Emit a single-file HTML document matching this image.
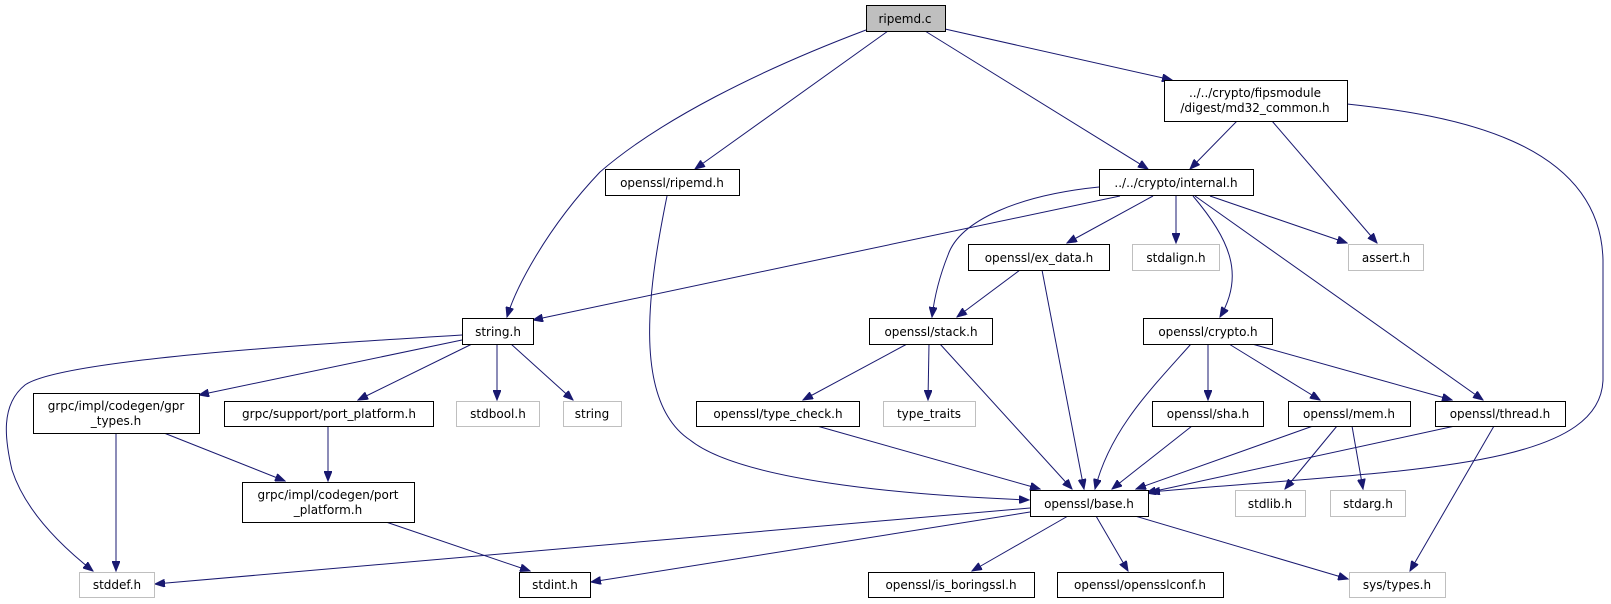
<!DOCTYPE html>
<html><head><meta charset="utf-8"><style>
html,body{margin:0;padding:0;background:#fff;}
svg{display:block;}
text{font-family:"DejaVu Sans","Liberation Sans",sans-serif;font-size:12px;fill:#000;}
.n{fill:#fff;stroke:#000;stroke-width:1;}
.g{fill:#fff;stroke:#bfbfbf;stroke-width:1;}
.e{fill:none;stroke:#191970;stroke-width:1;}
</style></head><body>
<svg width="1611" height="604" viewBox="0 0 1611 604" xmlns="http://www.w3.org/2000/svg">
<defs>
<marker id="a" markerWidth="11" markerHeight="8" refX="10" refY="4" orient="auto" markerUnits="userSpaceOnUse">
<path d="M0,0 L10,4 L0,8 Z" fill="#191970" stroke="#191970"/>
</marker>
</defs>
<g marker-end="url(#a)">
<path class="e" d="M866,30 C760,70 660,120 600,172 C545,230 515,290 507,317"/>
<path class="e" d="M888,31 L695,169"/>
<path class="e" d="M925,31 L1148,169"/>
<path class="e" d="M945,29 L1172,80"/>
<path class="e" d="M1237,121 L1190,169"/>
<path class="e" d="M1272,121 L1377,243"/>
<path class="e" d="M1347,104 C1450,115 1600,140 1603,260 L1603,380 C1600,470 1400,470 1150,492"/>
<path class="e" d="M667,196 C650,280 630,400 690,440 C740,480 900,495 1029,500"/>
<path class="e" d="M1120,196 L533,320"/>
<path class="e" d="M1099,187 C1020,195 960,220 948,255 C938,280 934,300 932,317"/>
<path class="e" d="M1153,196 L1067,243"/>
<path class="e" d="M1176,196 L1176,243"/>
<path class="e" d="M1193,196 C1230,240 1245,275 1220,317"/>
<path class="e" d="M1195,196 L1483,400"/>
<path class="e" d="M1210,196 L1347,243"/>
<path class="e" d="M1020,270 L957,317"/>
<path class="e" d="M1042,270 L1084,489"/>
<path class="e" d="M462,335 C300,345 60,360 25,385 C0,405 5,440 12,470 C25,510 60,545 93,571"/>
<path class="e" d="M462,340 L199,395"/>
<path class="e" d="M472,344 L358,400"/>
<path class="e" d="M497,344 L497,400"/>
<path class="e" d="M511,344 L573,400"/>
<path class="e" d="M907,344 L803,400"/>
<path class="e" d="M929,344 L928,400"/>
<path class="e" d="M940,344 L1072,489"/>
<path class="e" d="M1191,344 C1150,390 1110,430 1095,489"/>
<path class="e" d="M1208,344 L1208,400"/>
<path class="e" d="M1229,344 L1320,400"/>
<path class="e" d="M1252,344 L1452,400"/>
<path class="e" d="M116,433 L116,571"/>
<path class="e" d="M164,433 L285,481"/>
<path class="e" d="M328,426 L328,481"/>
<path class="e" d="M817,426 L1040,489"/>
<path class="e" d="M1192,426 L1112,489"/>
<path class="e" d="M1313,426 L1136,489"/>
<path class="e" d="M1337,426 L1285,489"/>
<path class="e" d="M1352,426 L1363,489"/>
<path class="e" d="M1455,426 L1146,493"/>
<path class="e" d="M1494,426 L1410,571"/>
<path class="e" d="M386,522 L530,571"/>
<path class="e" d="M1030,508 L155,584"/>
<path class="e" d="M1030,512 L591,582"/>
<path class="e" d="M1068,516 L972,571"/>
<path class="e" d="M1096,516 L1128,571"/>
<path class="e" d="M1135,516 L1348,579"/>
</g>
<rect x="866.5" y="5.5" width="79" height="26" fill="#bfbfbf" stroke="#000"/><text x="905" y="23" text-anchor="middle">ripemd.c</text>
<rect class="n" x="1164.5" y="80.5" width="183" height="41"/><text x="1255" y="97" text-anchor="middle">../../crypto/fipsmodule</text><text x="1255" y="112" text-anchor="middle">/digest/md32_common.h</text>
<rect class="n" x="605.5" y="169.5" width="134" height="26"/><text x="672" y="187" text-anchor="middle">openssl/ripemd.h</text>
<rect class="n" x="1099.5" y="169.5" width="154" height="26"/><text x="1176" y="187" text-anchor="middle">../../crypto/internal.h</text>
<rect class="n" x="968.5" y="244.5" width="141" height="26"/><text x="1039" y="262" text-anchor="middle">openssl/ex_data.h</text>
<rect class="g" x="1132.5" y="244.5" width="87" height="26"/><text x="1176" y="262" text-anchor="middle">stdalign.h</text>
<rect class="g" x="1348.5" y="244.5" width="75" height="26"/><text x="1386" y="262" text-anchor="middle">assert.h</text>
<rect class="n" x="462.5" y="318.5" width="71" height="26"/><text x="498" y="336" text-anchor="middle">string.h</text>
<rect class="n" x="869.5" y="318.5" width="123" height="26"/><text x="931" y="336" text-anchor="middle">openssl/stack.h</text>
<rect class="n" x="1143.5" y="318.5" width="129" height="26"/><text x="1208" y="336" text-anchor="middle">openssl/crypto.h</text>
<rect class="n" x="33.5" y="393.5" width="166" height="40"/><text x="116" y="410" text-anchor="middle">grpc/impl/codegen/gpr</text><text x="116" y="425" text-anchor="middle">_types.h</text>
<rect class="n" x="224.5" y="401.5" width="209" height="25"/><text x="329" y="418" text-anchor="middle">grpc/support/port_platform.h</text>
<rect class="g" x="456.5" y="401.5" width="83" height="25"/><text x="498" y="418" text-anchor="middle">stdbool.h</text>
<rect class="g" x="563.5" y="401.5" width="58" height="25"/><text x="592" y="418" text-anchor="middle">string</text>
<rect class="n" x="696.5" y="401.5" width="163" height="25"/><text x="778" y="418" text-anchor="middle">openssl/type_check.h</text>
<rect class="g" x="883.5" y="401.5" width="92" height="25"/><text x="929" y="418" text-anchor="middle">type_traits</text>
<rect class="n" x="1152.5" y="401.5" width="111" height="25"/><text x="1208" y="418" text-anchor="middle">openssl/sha.h</text>
<rect class="n" x="1288.5" y="401.5" width="122" height="25"/><text x="1349" y="418" text-anchor="middle">openssl/mem.h</text>
<rect class="n" x="1435.5" y="401.5" width="130" height="25"/><text x="1500" y="418" text-anchor="middle">openssl/thread.h</text>
<rect class="n" x="242.5" y="482.5" width="172" height="40"/><text x="328" y="499" text-anchor="middle">grpc/impl/codegen/port</text><text x="328" y="514" text-anchor="middle">_platform.h</text>
<rect class="n" x="1030.5" y="490.5" width="118" height="26"/><text x="1089" y="508" text-anchor="middle">openssl/base.h</text>
<rect class="g" x="1235.5" y="490.5" width="70" height="26"/><text x="1270" y="508" text-anchor="middle">stdlib.h</text>
<rect class="g" x="1330.5" y="490.5" width="75" height="26"/><text x="1368" y="508" text-anchor="middle">stdarg.h</text>
<rect class="g" x="79.5" y="572.5" width="75" height="25"/><text x="117" y="589" text-anchor="middle">stddef.h</text>
<rect class="n" x="519.5" y="572.5" width="71" height="25"/><text x="555" y="589" text-anchor="middle">stdint.h</text>
<rect class="n" x="868.5" y="572.5" width="166" height="25"/><text x="951" y="589" text-anchor="middle">openssl/is_boringssl.h</text>
<rect class="n" x="1057.5" y="572.5" width="166" height="25"/><text x="1140" y="589" text-anchor="middle">openssl/opensslconf.h</text>
<rect class="g" x="1349.5" y="572.5" width="96" height="25"/><text x="1397" y="589" text-anchor="middle">sys/types.h</text>
</svg>
</body></html>
